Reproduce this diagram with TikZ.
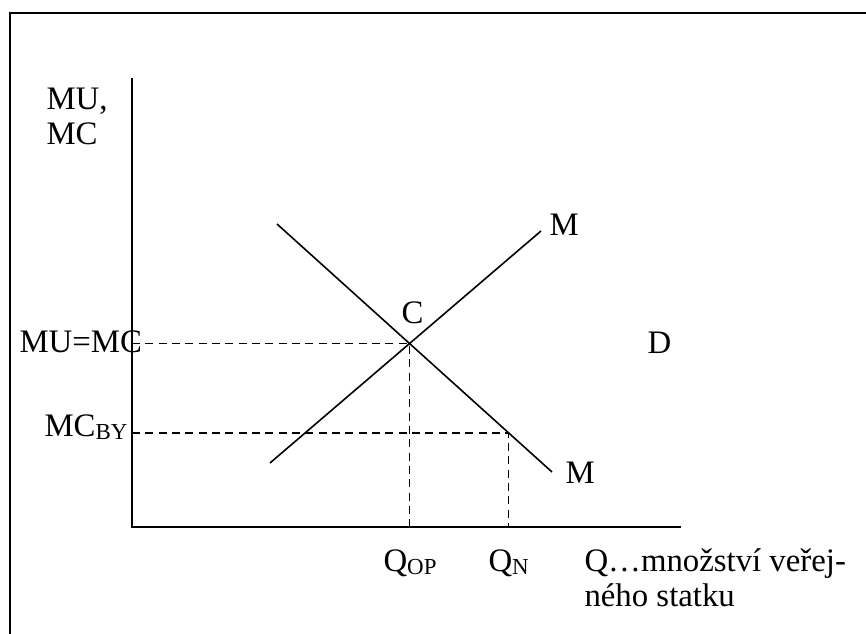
\documentclass[tikz,border=0pt]{standalone}
\usepackage{fontspec}
\setmainfont{Liberation Serif}
\usetikzlibrary{positioning,calc}
\newcommand{\lowidx}[1]{\raisebox{-0.8pt}{\fontsize{8.6}{10}\selectfont #1}}

\begin{document}
\begin{tikzpicture}[x=0.375pt,y=-0.375pt,
  lbl/.style={inner sep=0pt,anchor=base west,font=\fontsize{12.3}{14}\selectfont},
  axis/.style={line width=0.75pt},
  curve/.style={line width=0.6pt},
  guide/.style={line width=0.6pt,dash pattern=on 3pt off 2pt}]
  \clip (0,0) rectangle (866,634);
  \draw[line width=1.1pt] (10,13) rectangle (920,700);
  % axes
  \coordinate (O) at (132,527);
  \coordinate (ytop) at (132,78);
  \coordinate (xend) at (681,527);
  \draw[axis] (ytop) -- (O) -- (xend);
  % MC and MU lines
  \coordinate (mcA) at (270,463);
  \coordinate (mcB) at (541,231);
  \coordinate (muA) at (277,224);
  \coordinate (muB) at (552,472);
  \draw[curve] (mcA) -- (mcB);
  \draw[curve] (muA) -- (muB);
  \coordinate (C) at (intersection of mcA--mcB and muA--muB);
  \coordinate (N) at ($(muA)!0.842!(muB)$);
  % guides
  \draw[guide] (O |- C) -- (C) -- (C |- O);
  \draw[guide] (O |- N) -- (N) -- (N |- O);
  % labels
  \node[lbl] (muLbl) at (46,110) {MU,};
  \node[lbl] (mcLbl) at (46,145) {MC};
  \node[lbl] (eqLbl) at (19,353) {MU=MC};
  \node[lbl] (byLbl) at (44,437) {MC\lowidx{BY}};
  \node[lbl] (cLbl) at (401,324) {C};
  \node[lbl] (mTop) at (549,236) {M};
  \node[lbl] (mBot) at (565,484) {M};
  \node[lbl] (dLbl) at (647,354) {D};
  \node[lbl] (qop) at (383,572) {Q\lowidx{OP}};
  \node[lbl] (qn) at (488,572) {Q\lowidx{N}};
  \node[lbl] (qLbl) at (584,572) {Q…množství veřej-};
  \node[lbl] (qLbl2) at (584,607) {ného statku};
\end{tikzpicture}
\end{document}
